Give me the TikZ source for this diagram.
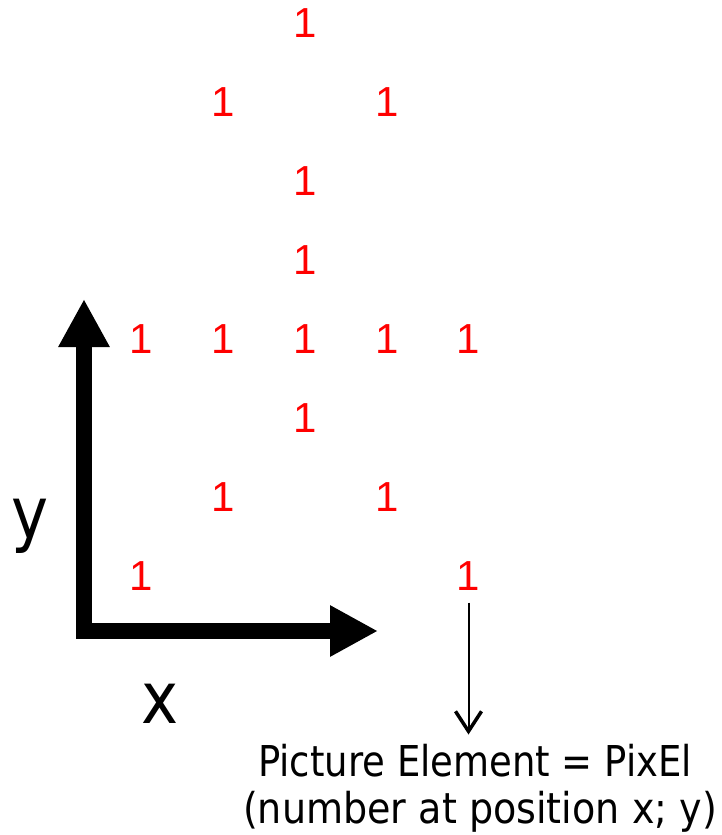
\documentclass[tikz,border=0pt]{standalone}
\usepackage{fontspec}
\setmainfont{Liberation Sans}
\newfontfamily\labfont[FakeStretch=0.87]{DejaVu Sans}
\usetikzlibrary{arrows.meta}
\definecolor{pixred}{RGB}{255,0,0}
\begin{document}
\begin{tikzpicture}[x=1pt,y=-1pt,
  pix/.style={text=pixred, font=\fontsize{42}{42}\selectfont, anchor=base, inner sep=0pt, xshift=2pt},
  axislab/.style={font=\labfont\fontsize{72}{72}\selectfont, anchor=base, inner sep=0pt},
  caption/.style={font=\labfont\fontsize{42.5}{47}\selectfont, anchor=base, inner sep=0pt},
  bigaxis/.style={line width=16pt, line join=miter, {Triangle[length=48pt,width=48pt]}-{Triangle[length=48pt,width=48pt]}},
  thinarrow/.style={line width=2pt, -{Straight Barb[length=20pt,width=26pt,line width=3.5pt]}}]
\useasboundingbox (0,0) rectangle (721,835);
% red pixels
\node[pix] (p02) at (303,37.5) {1};
\node[pix] (p11) at (221.25,116.5) {1};
\node[pix] (p13) at (384.75,116.5) {1};
\node[pix] (p22) at (303,195.5) {1};
\node[pix] (p32) at (303,274.5) {1};
\node[pix] (p40) at (139.5,353.5) {1};
\node[pix] (p41) at (221.25,353.5) {1};
\node[pix] (p42) at (303,353.5) {1};
\node[pix] (p43) at (384.75,353.5) {1};
\node[pix] (p44) at (466.5,353.5) {1};
\node[pix] (p52) at (303,432.5) {1};
\node[pix] (p61) at (221.25,511.5) {1};
\node[pix] (p63) at (384.75,511.5) {1};
\node[pix] (p70) at (139.5,590.5) {1};
\node[pix] (p74) at (466.5,590.5) {1};
% axes
\coordinate (ytip) at (84,299);
\coordinate (corner) at (84,631);
\coordinate (xtip) at (378,631);
\draw[bigaxis] (ytip) -- (corner) -- (xtip);
\node[axislab] (ylab) at (30,538) {y};
\node[axislab] (xlab) at (160,723) {x};
% caption
\node[caption] (cap1) at (475,776) {Picture Element = PixEl};
\node[caption, xscale=1.03] (cap2) at (480,823) {(number at position x; y)};
\draw[thinarrow, shorten >=9pt] ([yshift=-12pt]p74.south) -- (p74.south |- cap1.north);
\end{tikzpicture}
\end{document}
